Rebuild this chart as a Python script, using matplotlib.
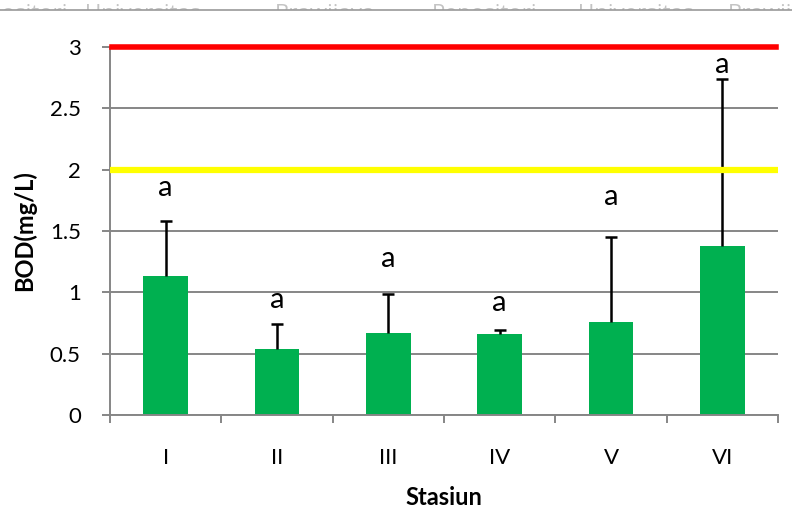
import matplotlib
matplotlib.use("Agg")
import matplotlib.pyplot as plt
import numpy as np

# BOD per station (mean, upper deviation) and significance letters
stations = ["I", "II", "III", "IV", "V", "VI"]
bod_mean = [1.13, 0.54, 0.67, 0.66, 0.76, 1.38]
bod_err = [0.45, 0.20, 0.32, 0.03, 0.69, 1.36]
letters = ["a", "a", "a", "a", "a", "a"]
letter_y = [1.85, 0.94, 1.27, 0.91, 1.78, 2.85]
limit_class2 = 3.0
limit_class1 = 2.0
y_ticks = [0, 0.5, 1, 1.5, 2, 2.5, 3]
y_tick_labels = ["0", "0.5", "1", "1.5", "2", "2.5", "3"]

plt.rcParams["font.family"] = ["Lato", "DejaVu Sans"]

W, H = 792, 509
fig = plt.figure(figsize=(W / 100, H / 100), dpi=100)
ax = fig.add_axes([110 / W, (H - 415) / H, (778 - 110) / W, (415 - 47) / H])

grid_c = "#868686"
x = np.arange(len(stations))
ax.set_xlim(-0.5, len(stations) - 0.5)
ax.set_ylim(0, 3)

ax.set_yticks(y_ticks)
ax.set_yticklabels(y_tick_labels)
ax.yaxis.grid(True, color=grid_c, linewidth=1.4, zorder=0)
ax.set_axisbelow(True)

ax.bar(x, bod_mean, width=0.4, color="#00B050", zorder=2)
eb = ax.errorbar(x, bod_mean, yerr=[np.zeros(len(x)), bod_err], fmt="none",
                 ecolor="black", elinewidth=1.8, capsize=4, capthick=1.8, zorder=3)
# only the upper whisker gets a cap
eb[1][0].set_visible(False)

ax.axhline(limit_class2, xmin=0.003, xmax=0.997, color="#FF0000", linewidth=4, zorder=4,
           clip_on=False)
ax.axhline(limit_class1, xmin=0.003, xmax=0.997, color="#FFFF00", linewidth=4.5, zorder=4)

for xi, ly, lt in zip(x, letter_y, letters):
    ax.text(xi, ly, lt, ha="center", va="center", fontsize=21, color="black", zorder=5)

# category boundaries carry the ticks, labels sit at the centres
ax.set_xticks(np.arange(-0.5, len(stations)), labels=[""] * (len(stations) + 1))
ax.set_xticks(x, labels=stations, minor=True)
ax.tick_params(axis="x", which="major", direction="out", length=6, width=1.4, color=grid_c)
ax.tick_params(axis="x", which="minor", length=0, pad=24, labelsize=16)
ax.tick_params(axis="y", direction="out", length=6, width=1.4, color=grid_c, labelsize=16, pad=15)

for s in ["top", "right"]:
    ax.spines[s].set_visible(False)
for s in ["left", "bottom"]:
    ax.spines[s].set_color(grid_c)
    ax.spines[s].set_linewidth(1.4)

ax.set_xlabel("Stasiun", fontsize=17, fontweight="bold", labelpad=13)
ax.set_ylabel("BOD(mg/L)", fontsize=17, fontweight="bold", labelpad=10)

# repository watermark strip along the top edge
wm = fig.add_axes([0, (H - 10) / H, 1, 10 / H])
wm.set_xlim(0, W)
wm.set_ylim(0, 10)
wm.axis("off")
wm_words = ["positori", "Universitas", "Brawijaya", "Repositori", "Universitas", "Brawijaya"]
wm_x = [-12, 85, 275, 432, 578, 728]
for wx, word in zip(wm_x, wm_words):
    wm.text(wx, -9.6, word, fontsize=16, color="#c4c4c4", ha="left", va="baseline",
            clip_on=True, family=["Open Sans", "DejaVu Sans"])
fig.add_artist(plt.Line2D([0, 1], [(H - 10) / H] * 2, color="#9a9a9a", linewidth=1.2,
                          transform=fig.transFigure))

fig.savefig("out.png", dpi=100)
